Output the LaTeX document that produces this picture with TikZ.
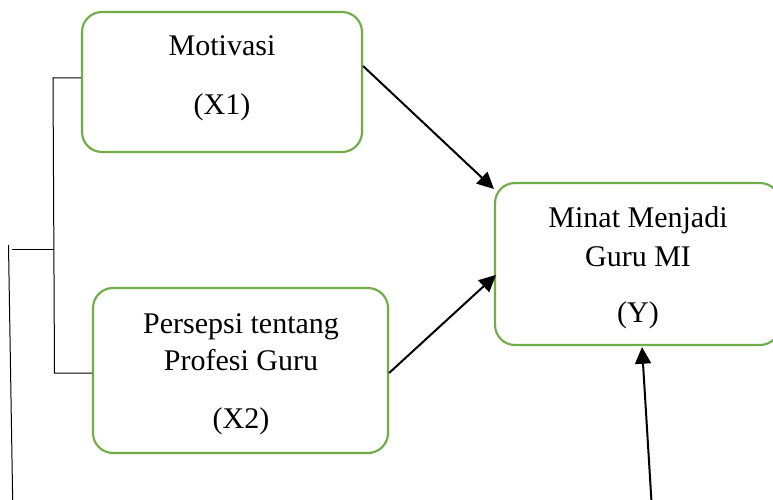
\documentclass[tikz,border=0pt]{standalone}
\usepackage{fontspec}
\setmainfont{Liberation Serif}
\usetikzlibrary{arrows.meta,calc}
\definecolor{boxgreen}{HTML}{70AD47}
\begin{document}
\begin{tikzpicture}[x=0.75pt,y=-0.75pt,
  box/.style={draw=boxgreen,line width=1.6pt,rounded corners=15pt,inner sep=0pt},
  txt/.style={anchor=base,inner sep=0pt,font=\fontsize{22.5pt}{27pt}\selectfont},
  arr/.style={draw=black,line width=1.5pt,-{Triangle[length=12.5pt,width=12pt]}},
  thin/.style={draw=black,line width=0.75pt}]
\useasboundingbox (0,0) rectangle (773,499);
\fill[white] (0,0) rectangle (773,499);
% boxes
\node[box,minimum width=280*0.75pt,minimum height=140*0.75pt] (x1) at (222,82) {};
\node[box,minimum width=295*0.75pt,minimum height=165*0.75pt] (x2) at (240.5,370.5) {};
\node[box,minimum width=285*0.75pt,minimum height=162*0.75pt] (y) at (637.5,264) {};
% texts
\node[txt] (t1a) at (222,56) {Motivasi};
\node[txt] (t1b) at (222,115) {(X1)};
\node[txt] (t2a) at (241,333) {Persepsi tentang};
\node[txt] (t2b) at (241,370) {Profesi Guru};
\node[txt] (t2c) at (241,428) {(X2)};
\node[txt] (t3a) at (638,227) {Minat Menjadi};
\node[txt] (t3b) at (638,266) {Guru MI};
\node[txt] (t3c) at (638,322) {(Y)};
% bracket
\coordinate (b1) at (53,78);
\coordinate (b2) at (54.5,373);
\coordinate (bm) at (53.5,249);
\coordinate (bl) at (12,249);
\coordinate (vt) at (8.5,245);
\coordinate (vb) at (12.7,502);
\draw[thin] (x1.west |- b1) -- (b1) -- (b2) -- (x2.west |- b2);
\draw[thin] (bm) -- (bl);
\draw[thin] (vt) -- (vb);
% arrows
\draw[arr] ($(x1.east)+(0,-16)$) -- ($(y.west)+(0,-75)$);
\draw[arr] ($(x2.east)+(0,2.5)$) -- ($(y.west)+(2,11)$);
\coordinate (bot) at (651.5,502);
\draw[arr] (bot) -- ($(y.south)+(4.5,1)$);
\end{tikzpicture}
\end{document}
